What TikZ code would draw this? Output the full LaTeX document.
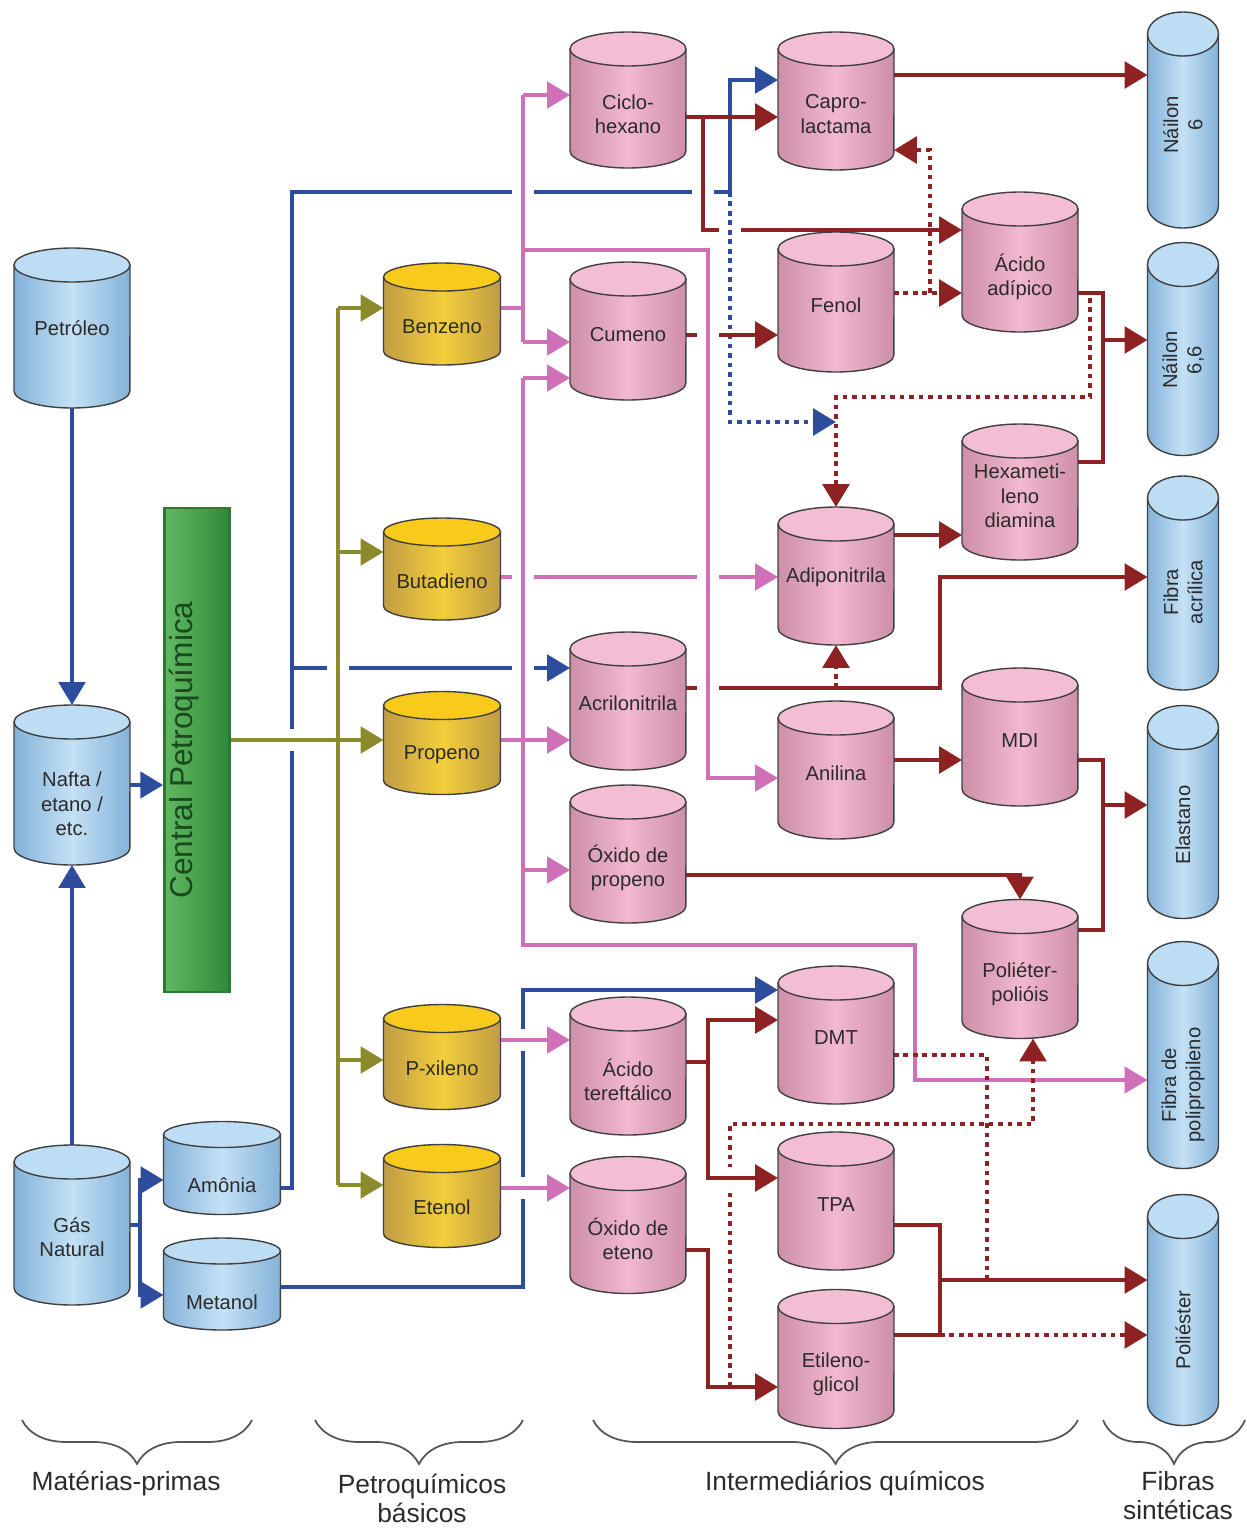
\documentclass[tikz,border=0pt]{standalone}
\usepackage{fontspec}
\setmainfont{Liberation Sans}
\usetikzlibrary{arrows.meta,backgrounds,decorations.pathreplacing}

\definecolor{blD}{HTML}{84B2D9}
\definecolor{blL}{HTML}{C4E1F5}
\definecolor{blT}{HTML}{BDDDF4}
\definecolor{pkD}{HTML}{CD8FA8}
\definecolor{pkL}{HTML}{F1B8CF}
\definecolor{pkT}{HTML}{F3BDD3}
\definecolor{yeD}{HTML}{C09C45}
\definecolor{yeL}{HTML}{F3CE3A}
\definecolor{yeT}{HTML}{F8CA1C}
\definecolor{grA}{HTML}{62B862}
\definecolor{grL}{HTML}{C4E6BD}
\definecolor{grD}{HTML}{2E8A38}
\definecolor{grB}{HTML}{2C7A32}
\definecolor{lnBlue}{HTML}{2D4C9E}
\definecolor{lnPink}{HTML}{D070B8}
\definecolor{lnRed}{HTML}{8E2121}
\definecolor{lnOlive}{HTML}{8B8B2D}
\definecolor{txt}{HTML}{2B2B2B}
\definecolor{brGray}{HTML}{555555}

\tikzset{
  anchorbox/.style={rectangle, inner sep=0pt, outer sep=0pt},
  tankline/.style={draw=black!75, line width=0.8pt},
  tanktext/.style={font=\fontsize{11.5}{13.8}\selectfont, align=center, text=txt},
  cpbar/.style={draw=grB, line width=1.6pt, left color=grA, middle color=grL, right color=grD},
  bartext/.style={font=\fontsize{18}{21}\selectfont, text=grB!60!black},
  grplabel/.style={font=\fontsize{15}{16.5}\selectfont, align=center, text=txt},
  grpbrace/.style={decorate, decoration={brace, mirror, amplitude=25pt}, draw=brGray, line width=1pt},
  bl/.style={draw=lnBlue, line width=2.3pt},
  pk/.style={draw=lnPink, line width=2.1pt},
  rd/.style={draw=lnRed, line width=2.5pt},
  ol/.style={draw=lnOlive, line width=2.1pt},
  rddot/.style={draw=lnRed, line width=2.6pt, dash pattern=on 2.6pt off 2.8pt},
  bldot/.style={draw=lnBlue, line width=2.6pt, dash pattern=on 2.6pt off 2.8pt},
  gapped/.style={preaction={draw=white, line width=13pt, -, shorten <=#1, shorten >=#1}},
  gapped/.default=9pt
}

% #1 name, #2 centre, #3 width px, #4 height px, #5 half height of the lid px,
% #6 colour set, #7 text, #8 text options, #9 text shift px
\newcommand\tank[9]{%
  \node[anchorbox, minimum width=#3*0.02cm, minimum height=#4*0.02cm] (#1) at #2 {};
  \pgfmathsetmacro\tkrx{#3*0.01}%
  \pgfmathsetmacro\tkry{#5*0.02}%
  \pgfmathsetmacro\tkls{#9*0.02}%
  \shadedraw[tankline, left color=#6D, right color=#6D, middle color=#6L]
    ([yshift=-\tkry cm]#1.north west) -- ([yshift=\tkry cm]#1.south west)
    arc[start angle=180, end angle=360, x radius=\tkrx cm, y radius=\tkry cm]
    -- ([yshift=-\tkry cm]#1.north east) -- cycle;
  \draw[tankline, fill=#6T] ([yshift=-\tkry cm]#1.north) ellipse[x radius=\tkrx cm, y radius=\tkry cm];
  \node[tanktext, #8] (#1-t) at ([yshift=-\tkls cm]#1.center) {#7};
}

\begin{document}
\begin{tikzpicture}[x=0.02cm, y=-0.02cm, >={Triangle[length=13pt,width=15pt]}]
\useasboundingbox (0,0) rectangle (1247,1529);

% raw materials
\tank{pet}{(72,328)}{116}{160}{17}{bl}{Petróleo}{}{0}
\tank{naf}{(72,785)}{116}{160}{17}{bl}{Nafta /\\etano /\\etc.}{}{19}
\tank{gas}{(72,1225)}{116}{160}{17}{bl}{Gás\\Natural}{}{12}
\tank{amo}{(222,1168)}{117}{93}{13}{bl}{Amônia}{}{17}
\tank{met}{(222,1284)}{117}{92}{13}{bl}{Metanol}{}{18}
\node[cpbar, minimum width=1.3cm, minimum height=9.68cm] (cpq) at (197,750) {};
\node[bartext, rotate=90] (cpq-t) at ([xshift=-0.25cm]cpq.center) {Central Petroquímica};

% basic petrochemicals
\tank{bz}{(442,314)}{117}{102}{14}{ye}{Benzeno}{}{13}
\tank{but}{(442,569)}{117}{102}{14}{ye}{Butadieno}{}{12}
\tank{pro}{(442,743)}{117}{103}{14}{ye}{Propeno}{}{12}
\tank{pxl}{(442,1057)}{117}{105}{14}{ye}{P-xileno}{}{11}
\tank{ete}{(442,1196)}{117}{103}{14}{ye}{Etenol}{}{11}

% intermediates
\tank{cic}{(628,100)}{116}{136}{17}{pk}{Ciclo-\\hexano}{}{14}
\tank{cum}{(628,331)}{116}{138}{17}{pk}{Cumeno}{}{4}
\tank{acr}{(628,701)}{116}{138}{17}{pk}{Acrilonitrila}{}{2}
\tank{oxp}{(628,854)}{116}{138}{17}{pk}{Óxido de\\propeno}{}{14}
\tank{ata}{(628,1066)}{116}{138}{17}{pk}{Ácido\\tereftálico}{}{14}
\tank{oxe}{(628,1225)}{116}{137}{17}{pk}{Óxido de\\eteno}{}{14}
\tank{cap}{(836,101)}{116}{138}{17}{pk}{Capro-\\lactama}{}{13}
\tank{fen}{(836,302)}{116}{140}{17}{pk}{Fenol}{}{3}
\tank{adn}{(836,576)}{116}{138}{17}{pk}{Adiponitrila}{}{1}
\tank{ani}{(836,770)}{116}{138}{17}{pk}{Anilina}{}{3}
\tank{dmt}{(836,1035)}{116}{138}{17}{pk}{DMT}{}{3}
\tank{tpa}{(836,1201)}{116}{138}{17}{pk}{TPA}{}{4}
\tank{eg}{(836,1359)}{116}{139}{17}{pk}{Etileno-\\glicol}{}{15}
\tank{aad}{(1020,262)}{116}{140}{17}{pk}{Ácido\\adípico}{}{15}
\tank{hmd}{(1020,492)}{116}{136}{17}{pk}{Hexameti-\\leno\\diamina}{}{4}
\tank{mdi}{(1020,737)}{116}{138}{17}{pk}{MDI}{}{4}
\tank{ppo}{(1020,969)}{116}{139}{17}{pk}{Poliéter-\\polióis}{}{15}

% synthetic fibres
\tank{n6}{(1183,120)}{71}{216}{22}{bl}{Náilon\\6}{rotate=90}{5}
\tank{n66}{(1183,349)}{71}{213}{22}{bl}{Náilon\\6,6}{rotate=90}{11}
\tank{facr}{(1183,583)}{71}{214}{22}{bl}{Fibra\\acrílica}{rotate=90}{9}
\tank{ela}{(1183,812)}{71}{213}{22}{bl}{Elastano}{rotate=90}{13}
\tank{fpp}{(1183,1055)}{71}{227}{22}{bl}{Fibra de\\polipropileno}{rotate=90}{30}
\tank{pes}{(1183,1310)}{71}{231}{22}{bl}{Poliéster}{rotate=90}{20}

% junctions
\coordinate (g1) at (140,1225);
\coordinate (a1) at (292,1188);
\coordinate (a2) at (292,192);
\coordinate (a3) at (730,192);
\coordinate (a4) at (730,80);
\coordinate (a5) at (292,668);
\coordinate (m1) at (523,1287);
\coordinate (m2) at (523,990);
\coordinate (c1) at (703,117);
\coordinate (c2) at (703,230);
\coordinate (p1) at (523,308);
\coordinate (p2) at (523,95);
\coordinate (p3) at (523,342);
\coordinate (p4) at (523,250);
\coordinate (p5) at (708,250);
\coordinate (p6) at (708,778);
\coordinate (q1) at (523,378);
\coordinate (q2) at (523,740);
\coordinate (q3) at (523,870);
\coordinate (q4) at (523,945);
\coordinate (q5) at (915,945);
\coordinate (q6) at (915,1080);
\coordinate (o1) at (338,308);
\coordinate (o2) at (338,1185);
\coordinate (o3) at (338,740);
\coordinate (d0) at (730,422);
\coordinate (d1) at (836,397);
\coordinate (k1) at (940,688);
\coordinate (k2) at (940,577);
\coordinate (f1) at (930,293);
\coordinate (f2) at (930,150);
\coordinate (e1) at (1103,293);
\coordinate (e2) at (1103,462);
\coordinate (e3) at (1103,340);
\coordinate (h1) at (1090,298);
\coordinate (h2) at (1090,397);
\coordinate (l1) at (1103,760);
\coordinate (l2) at (1103,930);
\coordinate (l3) at (1103,805);
\coordinate (x1) at (1020,875);
\coordinate (t1) at (708,1062);
\coordinate (s1) at (730,1387);
\coordinate (s2) at (730,1124);
\coordinate (s3) at (1033,1124);
\coordinate (u1) at (708,1250);
\coordinate (u2) at (708,1387);
\coordinate (v1) at (987,1055);
\coordinate (v2) at (987,1280);
\coordinate (w1) at (940,1225);
\coordinate (w2) at (940,1335);
\coordinate (w3) at (940,1280);

\begin{scope}[on background layer]
% blue
\draw[bl,->] (pet) -- (naf);
\draw[bl,->] (gas) -- (naf);
\draw[bl,->] (naf.east) -- (cpq.west |- naf.east);
\draw[bl] (gas.east |- g1) -- (g1);
\draw[bl,->] (g1) |- ([yshift=-0.24cm]amo.west);
\draw[bl,->] (g1) |- ([yshift=-0.22cm]met.west);
\draw[bl,->] (amo.east |- a1) -- (a1) -- (a2) -- (a3) -- (a4) -- (cap.west |- a4);
\draw[bl,->] (a5) -- (acr.west |- a5);
\draw[bl,->] (met.east |- m1) -- (m1) -- (m2) -- (dmt.west |- m2);
\draw[pk,->] (but.east |- 0,577) -- (adn.west |- 0,577);
% cyclohexane
\draw[rd,gapped,->] (c1) -- (c2) -- (aad.west |- c2);
\draw[rd,->] (cic.east |- c1) -- (cap.west |- c1);
% benzene
\draw[pk,gapped] (p2) -- (p3);
\draw[pk] (bz.east |- p1) -- (p1);
\draw[pk,->] (p2) -- (cic.west |- p2);
\draw[pk,->] (p3) -- (cum.west |- p3);
% propene
\draw[pk,gapped,->] (q1) -- (q4) -- (q5) -- (q6) -- (fpp.west |- q6);
\draw[pk,->] (q1) -- (cum.west |- q1);
\draw[pk,->] (pro.east |- q2) -- (acr.west |- q2);
\draw[pk,->] (q3) -- (oxp.west |- q3);
% central
\draw[ol,gapped] (o1) -- (o2);
\draw[ol,->] (o1) -- (bz.west |- o1);
\draw[ol,->] (o1 |- 0,552) -- (but.west |- 0,552);
\draw[ol,gapped=22pt] (cpq.east |- o3) -- (o3);
\draw[ol,->] (o3) -- (pro.west |- o3);
\draw[ol,->] (o1 |- 0,1060) -- (pxl.west |- 0,1060);
\draw[ol,->] (o2) -- (ete.west |- o2);
% ammonia, dotted
\draw[bldot,gapped,->] (a3) -- (d0) -- (d1 |- d0);
\draw[rd,->] (cum.east |- 0,335) -- (fen.west |- 0,335);
\draw[rd,->] (acr.east |- k1) -- (k1) -- (k2) -- (facr.west |- k2);
\draw[rddot,->] (adn.south |- k1) -- (adn.south);
\draw[pk,gapped,->] (p4) -- (p5) -- (p6) -- (ani.west |- p6);
% phenol, adipic acid
\draw[rddot,->] (fen.east |- f1) -- (aad.west |- f1);
\draw[rddot,->] (f1) -- (f2) -- (cap.east |- f2);
\draw[rd] (aad.east |- e1) -- (e1) -- (e2) -- (hmd.east |- e2);
\draw[rd,->] (e3) -- (n66.west |- e3);
\draw[rddot,->] (h1) -- (h2) -- (d1) -- (adn.north);
\draw[rd,->] (adn.east |- 0,535) -- (hmd.west |- 0,535);
\draw[rd,->] (cap.east |- 0,75) -- (n6.west |- 0,75);
% elastane
\draw[rd,->] (ani.east |- l1) -- (mdi.west |- l1);
\draw[rd] (mdi.east |- l1) -- (l1) -- (l2) -- (ppo.east |- l2);
\draw[rd,->] (l3) -- (ela.west |- l3);
\draw[rd,->] (oxp.east |- x1) -- (x1) -- (ppo.north);
% polyester
\draw[pk,gapped,->] (pxl.east |- 0,1040) -- (ata.west |- 0,1040);
\draw[pk,gapped,->] (ete.east |- 0,1188) -- (oxe.west |- 0,1188);
\draw[rddot,->] (s1) -- (s2) -- (s3) -- (ppo.south -| s3);
\draw[rd] (ata.east |- t1) -- (t1);
\draw[rd,->] (t1) |- (dmt.west |- 0,1020);
\draw[rd,gapped,->] (t1) |- (tpa.west |- 0,1178);
\draw[rd,->] (oxe.east |- u1) -- (u1) -- (u2) -- (eg.west |- u2);
\draw[rddot] (dmt.east |- v1) -- (v1) -- (v2);
\draw[rd] (tpa.east |- w1) -- (w1) -- (w2) -- (eg.east |- w2);
\draw[rd,->] (w3) -- (pes.west |- w3);
\draw[rddot,->] (w2) -- (pes.west |- w2);
\end{scope}

% groups
\draw[grpbrace] (22,1420) -- (252,1420);
\node[grplabel] (lb1) at (126,1484) {Matérias-primas};
\draw[grpbrace] (315,1420) -- (523,1420);
\node[grplabel] (lb2) at (422,1498) {Petroquímicos\\básicos};
\draw[grpbrace] (593,1420) -- (1078,1420);
\node[grplabel] (lb3) at (845,1484) {Intermediários químicos};
\draw[grpbrace] (1103,1420) -- (1245,1420);
\node[grplabel] (lb4) at (1178,1496) {Fibras\\sintéticas};
\end{tikzpicture}
\end{document}
